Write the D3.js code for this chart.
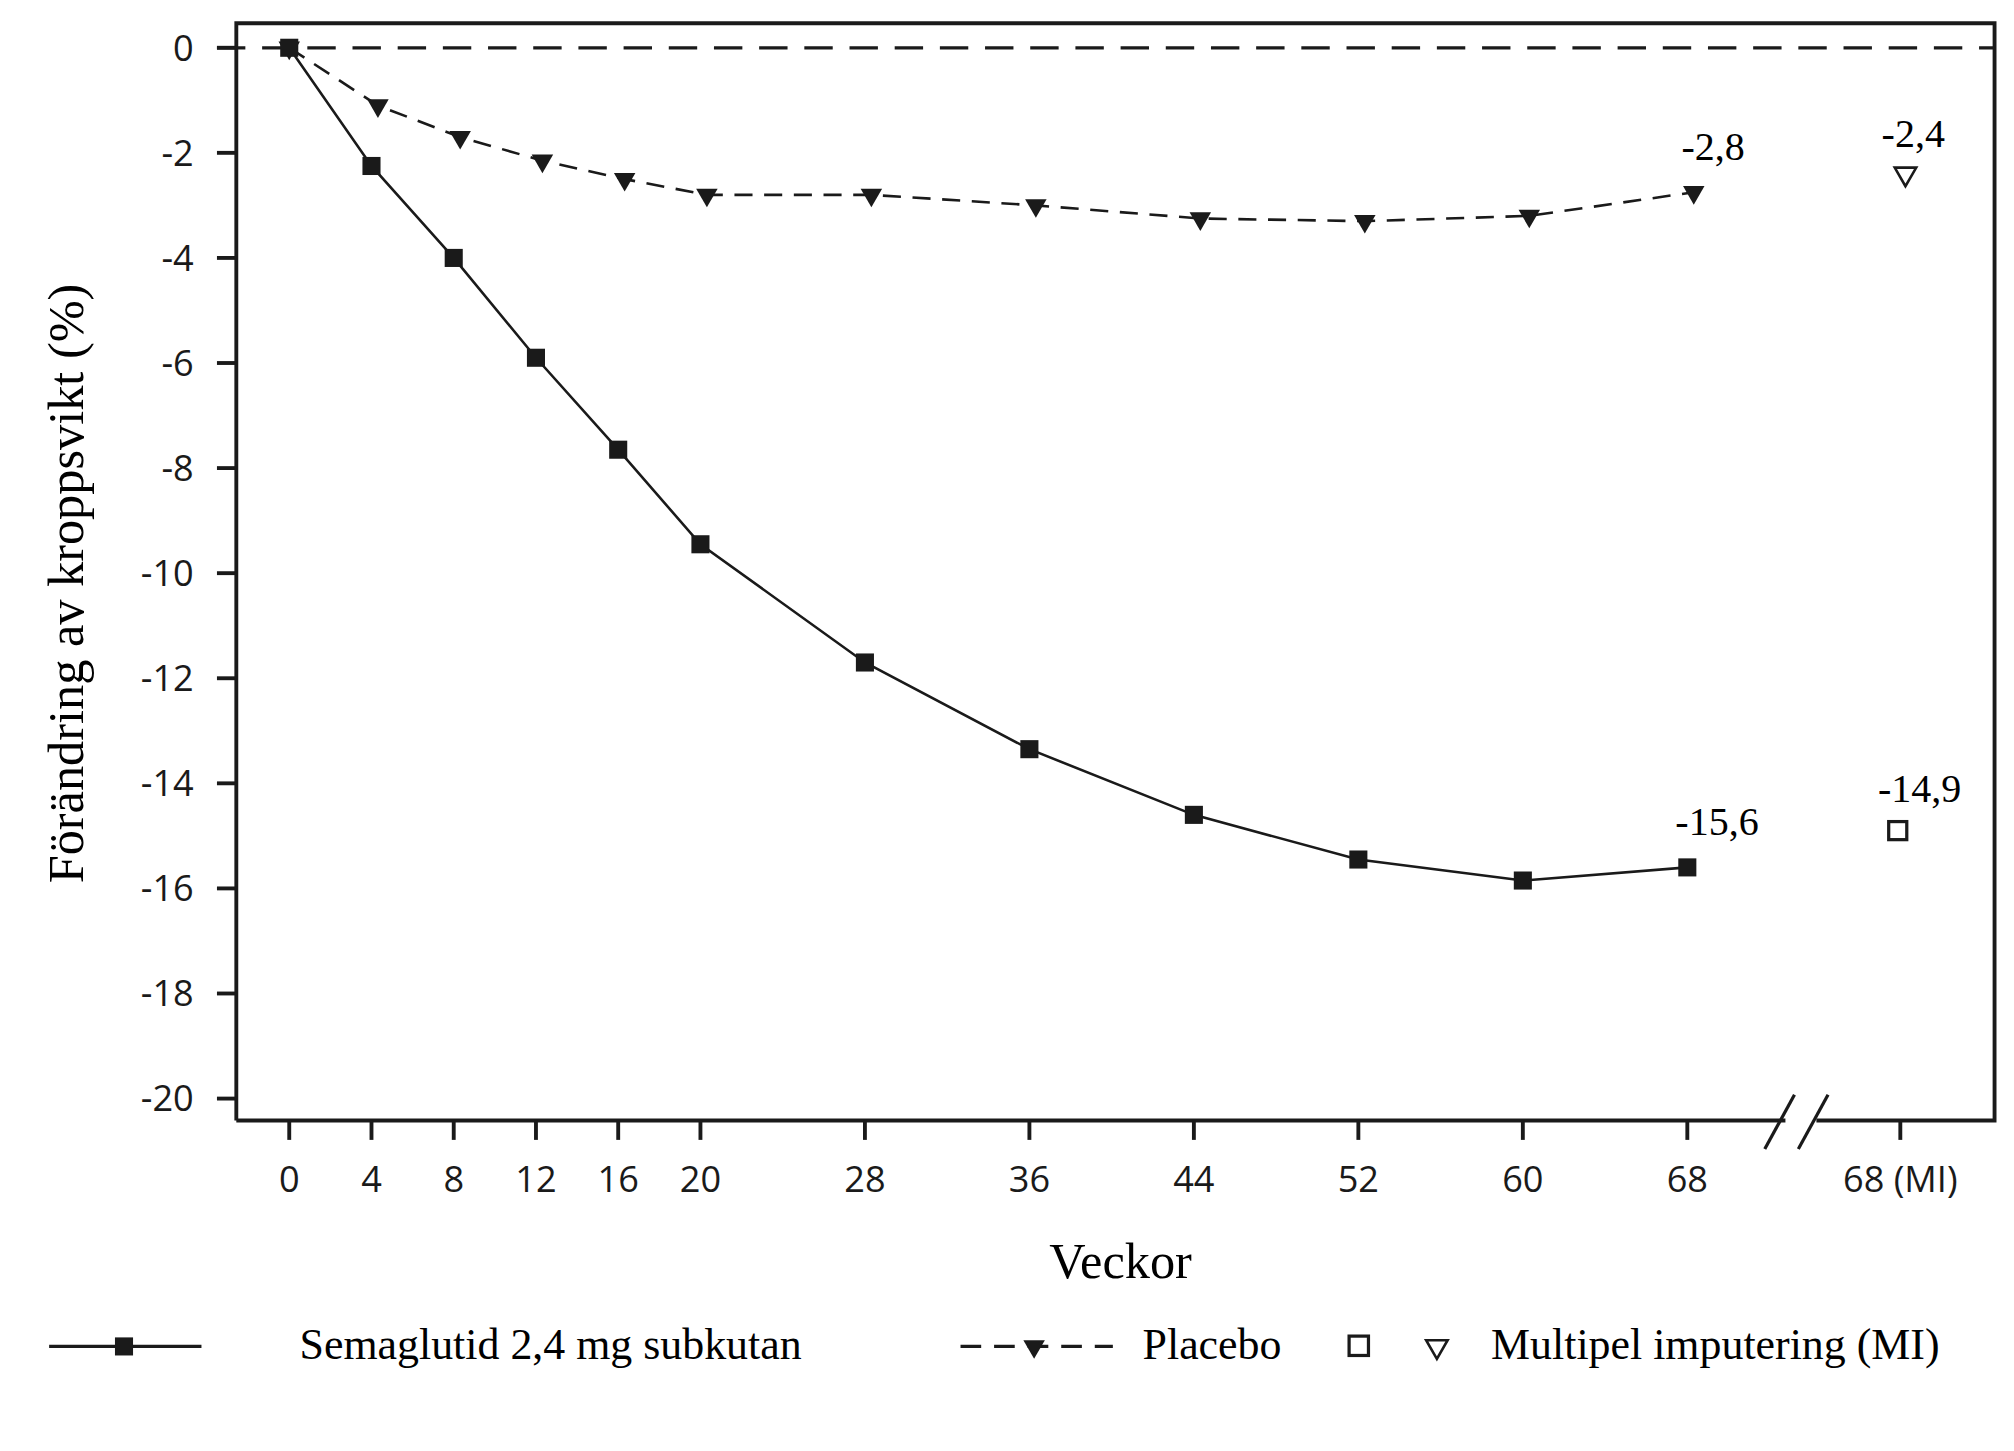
<!DOCTYPE html>
<html><head><meta charset="utf-8">
<script src="https://cdn.jsdelivr.net/npm/d3@7"></script>
<style>body{margin:0;background:#fff}svg{display:block}</style>
</head><body>
<svg id="c" width="2014" height="1451" viewBox="0 0 1560 1124"></svg>
<script>
// weeks and mean change in body weight (%)
var weeks = [0, 4, 8, 12, 16, 20, 28, 36, 44, 52, 60, 68];
var sema = [0, -2.25, -4.0, -5.9, -7.65, -9.45, -11.7, -13.35, -14.6, -15.45, -15.85, -15.6];
var placebo = [0, -1.1, -1.7, -2.15, -2.5, -2.8, -2.8, -3.0, -3.25, -3.3, -3.2, -2.75];
var semaMI = -14.9, placeboMI = -2.4;
var yTicks = [0, -2, -4, -6, -8, -10, -12, -14, -16, -18, -20];
var xTickLabels = ["0","4","8","12","16","20","28","36","44","52","60","68"];

var svg = d3.select("#c");
var x = d3.scaleLinear().domain([0, 68]).range([224, 1307]);
var xMI = 1472;
var y = d3.scaleLinear().domain([0, -20]).range([37, 851]);
var L = 183, T = 18, R = 1545, B = 868;
var sans = "'Open Sans', 'DejaVu Sans', sans-serif", serif = "'Liberation Serif', 'Times New Roman', serif";

// frame (with break on the bottom axis)
svg.append("path").attr("d", `M${L},${B}V${T}H${R}V${B}H1407M1383,${B}H${L}`)
  .attr("fill", "none").attr("stroke", "#1a1a1a").attr("stroke-width", 3);
[[1367, 1390], [1393, 1416]].forEach(function (b) {
  svg.append("line").attr("x1", b[0]).attr("y1", 890).attr("x2", b[1]).attr("y2", 848)
    .attr("stroke", "#1a1a1a").attr("stroke-width", 2.5);
});

// y axis ticks
yTicks.forEach(function (v) {
  svg.append("line").attr("x1", 168).attr("x2", L).attr("y1", y(v)).attr("y2", y(v)).attr("stroke", "#1a1a1a").attr("stroke-width", 3);
  svg.append("text").attr("x", 150).attr("y", y(v) + 10).attr("text-anchor", "end")
    .attr("font-family", sans).attr("font-size", 28).attr("fill", "#1a1a1a").text(v);
});
// x axis ticks
weeks.forEach(function (w, i) {
  svg.append("line").attr("x1", x(w)).attr("x2", x(w)).attr("y1", B).attr("y2", 883).attr("stroke", "#1a1a1a").attr("stroke-width", 3);
  svg.append("text").attr("x", x(w)).attr("y", 923).attr("text-anchor", "middle")
    .attr("font-family", sans).attr("font-size", 28).attr("fill", "#1a1a1a").text(xTickLabels[i]);
});
svg.append("line").attr("x1", xMI).attr("x2", xMI).attr("y1", B).attr("y2", 883).attr("stroke", "#1a1a1a").attr("stroke-width", 3);
svg.append("text").attr("x", xMI).attr("y", 923).attr("text-anchor", "middle")
  .attr("font-family", sans).attr("font-size", 28).attr("fill", "#1a1a1a").text("68 (MI)");

// zero reference line
svg.append("line").attr("x1", 168).attr("x2", R).attr("y1", y(0)).attr("y2", y(0))
  .attr("stroke", "#1a1a1a").attr("stroke-width", 2.5).attr("stroke-dasharray", "22,13");

// axis titles
svg.append("text").attr("x", 868).attr("y", 990).attr("text-anchor", "middle")
  .attr("font-family", serif).attr("font-size", 39).text("Veckor");
svg.append("text").attr("transform", "translate(64,452) rotate(-90)").attr("text-anchor", "middle")
  .attr("font-family", serif).attr("font-size", 39).text("Förändring av kroppsvikt (%)");

var line = d3.line();
// placebo (slightly offset right)
var pPts = weeks.map(function (w, i) { return [x(w) + (i ? 5 : 0), y(placebo[i])]; });
svg.append("path").attr("d", line(pPts)).attr("fill", "none").attr("stroke", "#1a1a1a")
  .attr("stroke-width", 2).attr("stroke-dasharray", "14,9");
var tri = d3.symbol().type(d3.symbolTriangle).size(120);
pPts.forEach(function (p) {
  svg.append("path").attr("d", tri()).attr("transform", `translate(${p[0]},${p[1]}) rotate(180)`).attr("fill", "#1a1a1a");
});
// semaglutide
var sPts = weeks.map(function (w, i) { return [x(w), y(sema[i])]; });
svg.append("path").attr("d", line(sPts)).attr("fill", "none").attr("stroke", "#1a1a1a").attr("stroke-width", 2);
sPts.forEach(function (p) {
  svg.append("rect").attr("x", p[0] - 7).attr("y", p[1] - 7).attr("width", 14).attr("height", 14).attr("fill", "#1a1a1a");
});

// MI points
svg.append("rect").attr("x", 1470 - 7).attr("y", y(semaMI) - 7).attr("width", 14).attr("height", 14)
  .attr("fill", "#fff").attr("stroke", "#1a1a1a").attr("stroke-width", 2.5);
svg.append("path").attr("d", tri()).attr("transform", `translate(1476,${y(placeboMI)}) rotate(180)`)
  .attr("fill", "#fff").attr("stroke", "#1a1a1a").attr("stroke-width", 2);

// value labels
var lab = [[1327, y(-2.75) - 25, "-2,8"], [1482, y(-2.4) - 21, "-2,4"], [1330, y(-15.6) - 25, "-15,6"], [1487, y(-14.9) - 22, "-14,9"]];
lab.forEach(function (l) {
  svg.append("text").attr("x", l[0]).attr("y", l[1]).attr("text-anchor", "middle")
    .attr("font-family", serif).attr("font-size", 31).text(l[2]);
});

// legend
var ly = 1043;
svg.append("line").attr("x1", 38).attr("x2", 156).attr("y1", ly).attr("y2", ly).attr("stroke", "#1a1a1a").attr("stroke-width", 2.5);
svg.append("rect").attr("x", 89).attr("y", ly - 7).attr("width", 14).attr("height", 14).attr("fill", "#1a1a1a");
svg.append("text").attr("x", 232).attr("y", ly + 10).attr("font-family", serif).attr("font-size", 34).text("Semaglutid 2,4 mg subkutan");
svg.append("line").attr("x1", 744).attr("x2", 862).attr("y1", ly).attr("y2", ly).attr("stroke", "#1a1a1a")
  .attr("stroke-width", 2.5).attr("stroke-dasharray", "16,10");
svg.append("path").attr("d", tri()).attr("transform", `translate(801,${ly}) rotate(180)`).attr("fill", "#1a1a1a");
svg.append("text").attr("x", 885).attr("y", ly + 10).attr("font-family", serif).attr("font-size", 34).text("Placebo");
svg.append("rect").attr("x", 1045).attr("y", ly - 8).attr("width", 15).attr("height", 15)
  .attr("fill", "#fff").attr("stroke", "#1a1a1a").attr("stroke-width", 2.5);
svg.append("path").attr("d", tri()).attr("transform", `translate(1113,${ly}) rotate(180)`)
  .attr("fill", "#fff").attr("stroke", "#1a1a1a").attr("stroke-width", 2);
svg.append("text").attr("x", 1155).attr("y", ly + 10).attr("font-family", serif).attr("font-size", 34).text("Multipel imputering (MI)");
</script>
</body></html>
